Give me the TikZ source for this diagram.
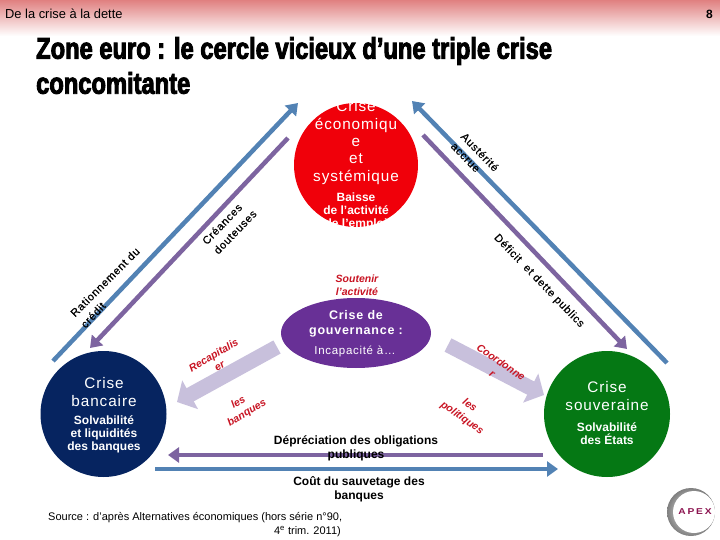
\documentclass[tikz,border=0pt]{standalone}
\usepackage{fontspec}
\setmainfont{Liberation Sans}
\newfontfamily\titlefont[FakeStretch=0.79,FakeBold=3]{Liberation Sans Bold}
\newfontfamily\headfont[FakeStretch=0.99]{Liberation Sans}
\newfontfamily\widefont[LetterSpace=6]{Liberation Sans}
\newfontfamily\slantfont[LetterSpace=6,FakeBold=0.5]{Liberation Sans}
\newfontfamily\logofont[LetterSpace=22,FakeStretch=1.2]{Liberation Sans Bold}
\usepackage{xcolor}
\usetikzlibrary{arrows.meta, positioning, shapes.geometric}
\definecolor{headred}{RGB}{224,128,128}
\definecolor{crisered}{RGB}{240,0,10}
\definecolor{crisenavy}{RGB}{6,36,96}
\definecolor{crisegreen}{RGB}{5,120,20}
\definecolor{crisepurple}{RGB}{104,48,150}
\definecolor{arrowblue}{RGB}{82,130,180}
\definecolor{arrowpurple}{RGB}{125,100,160}
\definecolor{arrowpale}{RGB}{200,192,220}
\definecolor{labelred}{RGB}{200,20,35}
\definecolor{apexred}{RGB}{140,20,80}

\begin{document}
\begin{tikzpicture}[
    x=1pt, y=-1pt,
    crisis/.style={circle, minimum size=126pt, inner sep=0pt},
    maintext/.style={text=white, font=\widefont\fontsize{15.3}{17.3}\selectfont, inner sep=0pt, align=center},
    subtext/.style={text=white, font=\bfseries\fontsize{12}{13}\selectfont, inner sep=0pt, align=center},
    slanted/.style={font=\slantfont\fontsize{11}{13}\selectfont, inner sep=0pt},
    policy/.style={text=labelred, font=\bfseries\itshape\fontsize{10.5}{12}\selectfont, inner sep=0pt},
    caption/.style={font=\bfseries\fontsize{12}{14}\selectfont, inner sep=0pt, align=center},
    bluearrow/.style={draw=arrowblue, line width=4.5pt, -{Triangle[length=11pt,width=15pt]}},
    purplearrow/.style={draw=arrowpurple, line width=4.5pt, -{Triangle[length=11pt,width=15pt]}},
    palearrow/.style={draw=arrowpale, line width=15pt, -{Triangle[length=15pt,width=32pt]}}
]
\useasboundingbox (0,0) rectangle (720,540);

% header band
\shade[top color=headred, bottom color=white] (0,0) rectangle (720,36);
\node[anchor=west, inner sep=0pt, font=\headfont\fontsize{13}{15}\selectfont] (header) at (5,14) {De la crise à la dette};
\node[anchor=east, inner sep=0pt, font=\bfseries\fontsize{12}{14}\selectfont] (pagenum) at (713,14) {8};
\node[anchor=west, inner sep=0pt, font=\titlefont\fontsize{30}{34}\selectfont] (title) at (36,51) {Zone euro : le cercle vicieux d’une triple crise};
\node[anchor=west, inner sep=0pt, font=\titlefont\fontsize{30}{34}\selectfont] (title2) at (36,83) {concomitante};

% crises
\node[crisis, fill=crisered, minimum size=124pt] (eco) at (356,165) {};
\node[crisis, fill=crisenavy] (bank) at (103.5,414) {};
\node[crisis, fill=crisegreen] (state) at (607,414) {};
\node[ellipse, fill=crisepurple, minimum width=150pt, minimum height=70pt, inner sep=0pt] (gov) at (356,333) {};

\node[maintext, anchor=center] (ecotitle) at (356,142.5) {Crise\\économiqu\\e\\et\\systémique};
\node[subtext, anchor=center] (ecosub) at (356,211) {Baisse\\de l’activité\\de l’emploi};
\node[maintext, anchor=center] (banktitle) at (104,392) {Crise\\bancaire};
\node[subtext, anchor=center] (banksub) at (104,434) {Solvabilité\\et liquidités\\des banques};
\node[maintext, anchor=center] (statetitle) at (607,396) {Crise\\souveraine};
\node[subtext, anchor=center] (statesub) at (607,433.5) {Solvabilité\\des États};
\node[maintext, anchor=center, font=\widefont\bfseries\fontsize{12.5}{15}\selectfont] (govtitle) at (356,323.5) {Crise de\\gouvernance :};
\node[subtext, anchor=center, font=\widefont\fontsize{11.5}{13}\selectfont] (govsub) at (355,351) {Incapacité à\dots};

% end points of the arrows
\coordinate (leftbluestart) at (53,361);
\coordinate (leftblueend) at (298,103);
\coordinate (leftpurplestart) at (288,138);
\coordinate (leftpurpleend) at (90,348);
\coordinate (rightbluestart) at (667,363);
\coordinate (rightblueend) at (412,101);
\coordinate (rightpurplestart) at (423,135);
\coordinate (rightpurpleend) at (627,349);
\coordinate (lowpurplestart) at (543,455);
\coordinate (lowpurpleend) at (168,455);
\coordinate (lowbluestart) at (155,469);
\coordinate (lowblueend) at (558,469);
\coordinate (palebankstart) at (277,347);
\coordinate (palebankend) at (177,402);
\coordinate (palestatestart) at (448,345);
\coordinate (palestateend) at (544,395);

\draw[bluearrow] (leftbluestart) -- (leftblueend);
\draw[purplearrow] (leftpurplestart) -- (leftpurpleend);
\draw[bluearrow] (rightbluestart) -- (rightblueend);
\draw[purplearrow] (rightpurplestart) -- (rightpurpleend);
\draw[purplearrow] (lowpurplestart) -- (lowpurpleend);
\draw[bluearrow] (lowbluestart) -- (lowblueend);
\draw[palearrow] (palebankstart) -- (palebankend);
\draw[palearrow] (palestatestart) -- (palestateend);

% labels along the arrows
\node[slanted, rotate=-46] (austerite) at (480,152) {Austérité};
\node[slanted, rotate=-46] (accrue) at (465,158) {accrue};
\node[slanted, rotate=46] (creances) at (222,224) {Créances};
\node[slanted, rotate=46] (douteuses) at (235,232) {douteuses};
\node[slanted, rotate=45] (rationnement) at (105,282) {Rationnement du};
\node[slanted, rotate=47] (credit) at (93,315) {crédit};
\node[slanted, rotate=-46] (deficit) at (539,281) {Déficit\ \ et dette publics};

\node[policy] (soutenir) at (357,279) {Soutenir};
\node[policy] (activite) at (357,292) {l’activité};
\node[policy, rotate=31] (recap) at (214,356) {Recapitalis};
\node[policy, rotate=31] (recaper) at (220,367) {er};
\node[policy, rotate=31] (lesb) at (238,402) {les};
\node[policy, rotate=31] (banques) at (247,413) {banques};
\node[policy, rotate=-35] (coord) at (501,362) {Coordonne};
\node[policy, rotate=-35] (coordr) at (492,374) {r};
\node[policy, rotate=-35] (lesp) at (470,405) {les};
\node[policy, rotate=-35] (politiques) at (462,418) {politiques};

\node[caption] (deprec) at (356,441) {Dépréciation des obligations};
\node[caption] (deprec2) at (356,455.5) {publiques};
\node[caption] (cout) at (359,489) {Coût du sauvetage des\\banques};

\node[anchor=west, inner sep=0pt, font=\fontsize{11}{13}\selectfont] (source) at (48,518) {Source : d’après Alternatives économiques (hors série n°90,};
\node[anchor=east, inner sep=0pt, font=\fontsize{11}{13}\selectfont] (source2) at (341,532) {4\textsuperscript{e} trim. 2011)};

% logo
\shade[inner color=white, outer color=black!50] (691,512) circle (24);
\fill[white] (694,512) circle (21);
\node[font=\logofont\fontsize{8.5}{10}\selectfont, text=apexred, inner sep=0pt] (apex) at (695,512) {APEX};

\end{tikzpicture}
\end{document}
